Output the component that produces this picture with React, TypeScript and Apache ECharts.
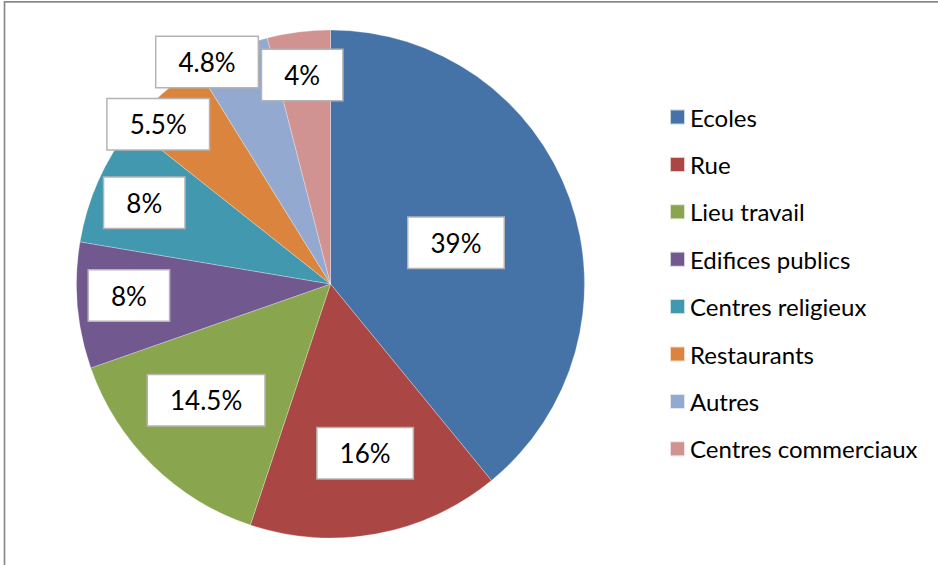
import React, { useEffect, useRef } from "react";
import * as echarts from "echarts";

const categories = [
  "Ecoles",
  "Rue",
  "Lieu travail",
  "Edifices publics",
  "Centres religieux",
  "Restaurants",
  "Autres",
  "Centres commerciaux",
];
const values = [39, 16, 14.5, 8, 8, 5.5, 4.8, 4];
const colors = ["#4572A7", "#AA4643", "#89A54E", "#71588F", "#4198AF", "#DB843D", "#93A9CF", "#D19392"];

// label placement: fraction of radius along slice mid-angle, plus angle shift (deg)
const labelRadius = [0.52, 0.68, 0.67, 0.795, 0.8, 0.925, 1.0, 0.83];
const labelAngleShift = [1.5, -1.1, 2.4, 1.6, -0.4, -5.5, -6.0, -0.5];

const CX = 330.5;
const CY = 284;
const R = 254;

export default function App() {
  const ref = useRef<HTMLDivElement>(null);
  useEffect(() => {
    if (!ref.current) return;
    const chart = echarts.init(ref.current, undefined, { renderer: "svg" });
    const total = values.reduce((a, b) => a + b, 0);
    const mids: number[] = [];
    let acc = 0;
    values.forEach((v) => {
      const a = (v / total) * 360;
      mids.push(acc + a / 2);
      acc += a;
    });
    chart.setOption({
      animation: false,
      backgroundColor: "#fff",
      color: colors,
      graphic: [
        {
          type: "rect",
          shape: { x: 4.5, y: 1.8, width: 1200, height: 1200 },
          style: { fill: "none", stroke: "#8a8a8a", lineWidth: 1.7 },
          silent: true,
        },
      ],
      legend: {
        orient: "vertical",
        left: 664,
        top: 100,
        itemWidth: 15,
        itemHeight: 15,
        itemGap: 23.4,
        icon: "rect",
        textStyle: {
          fontFamily: "Lato",
          fontSize: 24,
          lineHeight: 24,
          color: "#000",
        },
        data: categories,
      },
      series: [
        {
          type: "pie",
          center: [CX, CY],
          radius: R,
          startAngle: 90,
          clockwise: true,
          avoidLabelOverlap: false,
          itemStyle: { borderColor: "rgba(255,255,255,0.7)", borderWidth: 0.4 },
          label: {
            show: true,
            position: "inside",
            formatter: "{c}%",
            fontFamily: "Lato",
            fontSize: 26,
            lineHeight: 26,
            color: "#000",
            backgroundColor: "#fff",
            borderColor: "#b4b4b4",
            borderWidth: 1.5,
            padding: [12, 22, 12, 22],
          },
          labelLine: { show: false },
          labelLayout: (params: any) => {
            const i = params.dataIndex;
            const ang = ((mids[i] + labelAngleShift[i]) * Math.PI) / 180;
            const rr = R * labelRadius[i];
            return {
              x: CX + Math.sin(ang) * rr,
              y: CY - Math.cos(ang) * rr,
              align: "center",
              verticalAlign: "middle",
            };
          },
          data: categories.map((name, i) => ({ name, value: values[i] })),
        },
      ],
    });
    return () => chart.dispose();
  }, []);
  return (
    <div
      ref={ref}
      style={{ position: "fixed", left: 0, top: 0, width: 938, height: 565 }}
    />
  );
}
